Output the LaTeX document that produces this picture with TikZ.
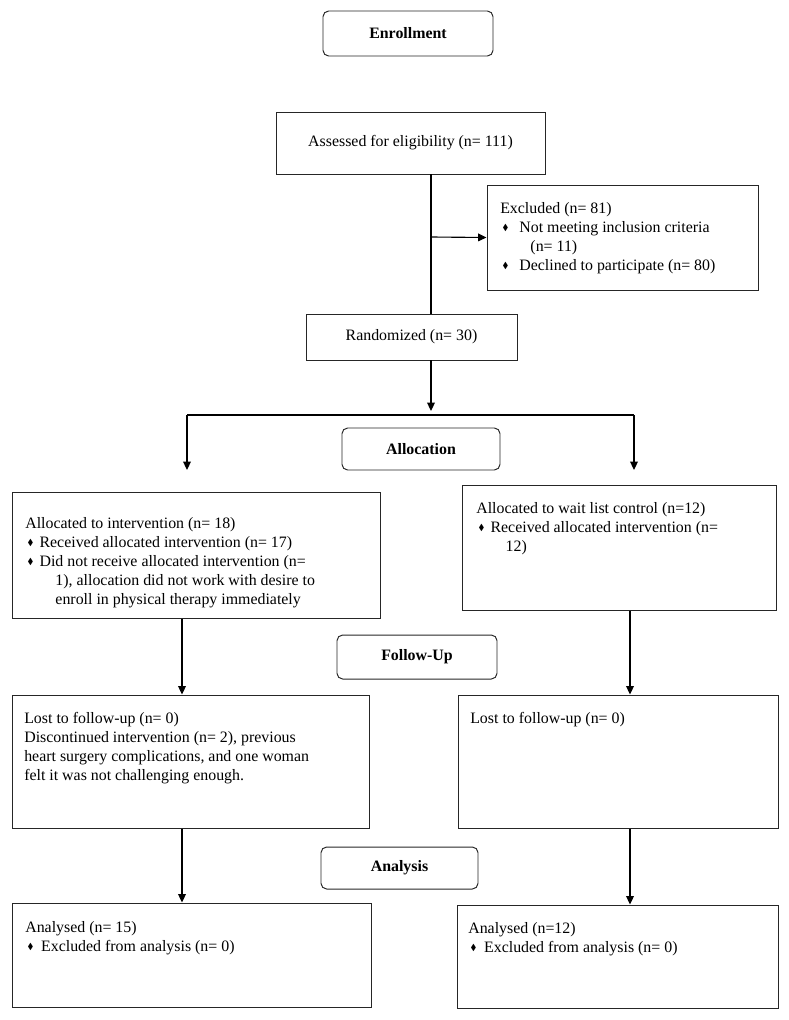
\documentclass[tikz,border=0pt]{standalone}
\usepackage{fontspec}
\setmainfont{Liberation Serif}
\usepackage{amssymb}
\usepackage{graphicx}
\usetikzlibrary{arrows.meta}
\newcommand{\bul}[1]{\makebox[#1][l]{\hspace{0.15em}\raisebox{0.25ex}{\scalebox{0.55}{$\blacklozenge$}}}}

\begin{document}
\begin{tikzpicture}[x=0.025cm, y=-0.025cm,
  every node/.style={font=\fontsize{11.3}{13.6}\selectfont},
  box/.style 2 args={draw=black!85, line width=0.7pt, rectangle, minimum width=#1*0.025cm, minimum height=#2*0.025cm, inner sep=0pt},
  stage/.style 2 args={box={#1}{#2}, rounded corners=4pt, font=\fontsize{11.3}{13.6}\selectfont\bfseries},
  txt/.style={anchor=north west, inner sep=0pt, align=left},
  arr/.style={-{Triangle[length=6pt,width=5.5pt]}, line width=0.8pt},
  lin/.style={line width=0.8pt}]
\useasboundingbox (0,0) rectangle (789,1020);

% Enrollment
\node[stage={170}{45}] (enroll) at (408,33.5) {Enrollment};
\node[box={269}{62}] (assess) at (410.5,143) {Assessed for eligibility (n= 111)};
\node[box={271}{105}] (excl) at (622.5,237.5) {};
\node[txt] (excltxt) at (500,202) {Excluded (n= 81)\\
  \bul{1.2em}Not meeting inclusion criteria\\
  \hspace*{1.9em}(n= 11)\\
  \bul{1.2em}Declined to participate (n= 80)};
\node[box={211}{46}] (rand) at (411.5,337) {Randomized (n= 30)};

% Allocation
\node[stage={158}{42}] (alloc) at (421,449) {Allocation};
\node[box={368}{126}] (intv) at (196,555) {};
\node[txt] (intvtxt) at (25,517) {Allocated to intervention (n= 18)\\
  \bul{0.9em}Received allocated intervention (n= 17)\\
  \bul{0.9em}Did not receive allocated intervention (n=\\
  \hspace*{1.9em}1), allocation did not work with desire to\\
  \hspace*{1.9em}enroll in physical therapy immediately};
\node[box={314}{125}] (wait) at (619,547.5) {};
\node[txt] (waittxt) at (476,502) {Allocated to wait list control (n=12)\\
  \bul{0.9em}Received allocated intervention (n=\\
  \hspace*{1.85em}12)};

% Follow-up
\node[stage={160}{44}] (fu) at (417,657) {Follow-Up};
\node[box={357}{133}] (fuintv) at (190.5,761.5) {};
\node[txt] (fuintvtxt) at (24,712) {Lost to follow-up (n= 0)\\
  Discontinued intervention (n= 2), previous\\
  heart surgery complications, and one woman\\
  felt it was not challenging enough.};
\node[box={320}{133}] (fuwait) at (618,761.5) {};
\node[txt] (fuwaittxt) at (470,712) {Lost to follow-up (n= 0)};

% Analysis
\node[stage={157}{42}] (anlys) at (399.5,868) {Analysis};
\node[box={359}{104}] (anintv) at (191.5,955) {};
\node[txt] (anintvtxt) at (25,921) {Analysed (n= 15)\\
  \bul{1em}Excluded from analysis (n= 0)};
\node[box={321}{103}] (anwait) at (617.5,956.5) {};
\node[txt] (anwaittxt) at (468,922) {Analysed (n=12)\\
  \bul{1em}Excluded from analysis (n= 0)};

% Branch points
\coordinate (branch) at (431,237);
\coordinate (split) at (431,411);
\coordinate (splitL) at (187,415);
\coordinate (splitR) at (634,415);
\coordinate (tipL) at (187,470);
\coordinate (tipR) at (634,470);
\coordinate (colL) at (182,0);
\coordinate (colR) at (630,0);

% Connections
\draw[lin] (assess.south -| branch) -- (rand.north -| branch);
\draw[arr] (branch) -- (excl.west);
\draw[arr] (rand.south -| split) -- (split);
\draw[lin] (splitL) -- (splitR);
\draw[arr] (splitL) -- (tipL);
\draw[arr] (splitR) -- (tipR);
\draw[arr] (intv.south -| colL) -- (fuintv.north -| colL);
\draw[arr] (wait.south -| colR) -- (fuwait.north -| colR);
\draw[arr] (fuintv.south -| colL) -- (anintv.north -| colL);
\draw[arr] (fuwait.south -| colR) -- (anwait.north -| colR);
\end{tikzpicture}
\end{document}
